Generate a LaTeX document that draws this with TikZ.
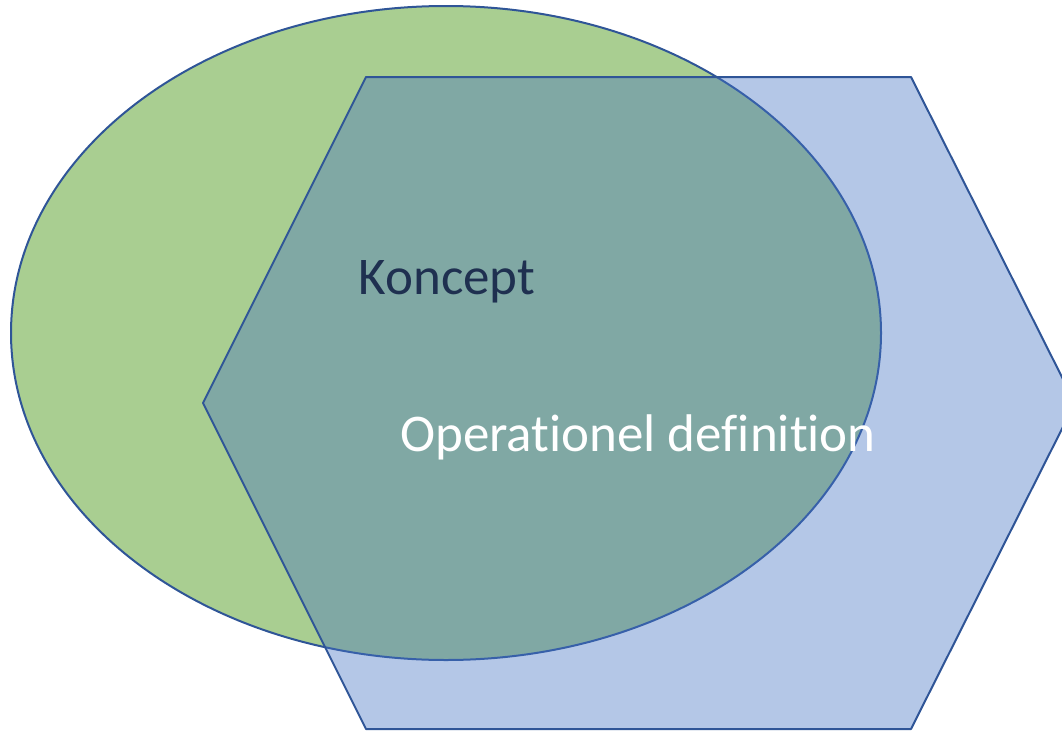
\documentclass[tikz,border=0pt]{standalone}
\usepackage{fontspec}
\setmainfont[Ligatures={NoCommon}]{Carlito}
\usepackage{tikz}
\newcommand{\shapeOpacityKoncept}[0]{0.6}
\newcommand{\shapeOpacityDef}[0]{0.4}
\definecolor{konceptgreen}{HTML}{70AD47}
\definecolor{defblue}{HTML}{4472C4}
\definecolor{edgeblue}{HTML}{2F5597}
\definecolor{darktext}{HTML}{1F3050}

\begin{document}
\begin{tikzpicture}[x=1pt, y=-1pt]
  \tikzset{outline/.style={draw=edgeblue, line width=2pt, line join=round},
           label text/.style={font=\fontsize{53}{60}\selectfont, inner sep=0pt}}
  \useasboundingbox (0,0) rectangle (1062,731);
  \clip (0,0) rectangle (1062,731);
  % koncept
  \coordinate (E-1) at (446,333);
  \filldraw[outline, fill=konceptgreen, fill opacity=\shapeOpacityKoncept]
    (E-1) ellipse [x radius=435, y radius=327];
  % operationel definition
  \coordinate (H-1) at (366,77);
  \coordinate (H-2) at (911,77);
  \coordinate (H-3) at (1075,403);
  \coordinate (H-4) at (911,729);
  \coordinate (H-5) at (366,729);
  \coordinate (H-6) at (203,403);
  \filldraw[outline, fill=defblue, fill opacity=\shapeOpacityDef]
    (H-1) -- (H-2) -- (H-3) -- (H-4) -- (H-5) -- (H-6) -- cycle;
  \node[label text, text=darktext] (koncept) at (447,282) {Koncept};
  \node[label text, text=white] (definition) at (638,437) {Operationel definition};
\end{tikzpicture}
\end{document}
